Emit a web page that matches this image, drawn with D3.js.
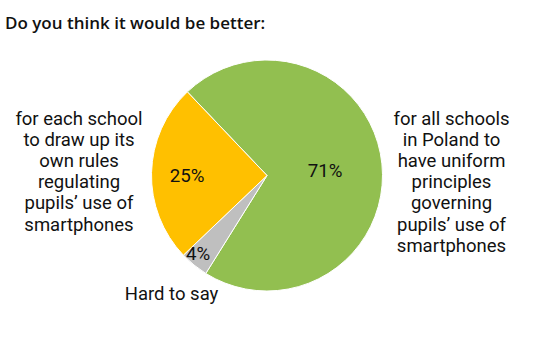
<!DOCTYPE html>
<html><head><meta charset="utf-8">
<script src="https://cdn.jsdelivr.net/npm/d3@7"></script>
<style>body{margin:0;background:#fff;} text{font-family:Roboto, sans-serif;}</style>
</head><body>
<svg id="chart" width="534" height="359"></svg>
<script>
const title = "Do you think it would be better:";
const categories = ["for all schools in Poland to have uniform principles governing pupils’ use of smartphones", "Hard to say", "for each school to draw up its own rules regulating pupils’ use of smartphones"];
const values = [71, 4, 25];
const colors = ["#92BF50", "#BFBFBF", "#FFC000"];
const labelLines = [
  ["for all schools", "in Poland to", "have uniform", "principles", "governing", "pupils’ use of", "smartphones"],
  ["Hard to say"],
  ["for each school", "to draw up its", "own rules", "regulating", "pupils’ use of", "smartphones"]
];

const svg = d3.select("#chart");
const cx = 267, cy = 175.5, r = 115.5;
const start = -43.6 * Math.PI / 180;

svg.append("text").attr("x", 5).attr("y", 29).attr("font-size", 17).attr("font-weight", 600)
  .style("font-family", "'Open Sans', sans-serif")
  .attr("fill", "#111").text(title);

const pie = d3.pie().sort(null).value(d => d).startAngle(start).endAngle(start + 2 * Math.PI);
const arcs = pie(values);
const arc = d3.arc().innerRadius(0).outerRadius(r);
const g = svg.append("g").attr("transform", `translate(${cx},${cy})`);
g.selectAll("path").data(arcs).join("path")
  .attr("d", arc).attr("fill", (d, i) => colors[i])
  .attr("stroke", "#fff").attr("stroke-width", 1);

const pctPos = [[58, -5], [-69, 78.5], [-80, 0.5]];
g.selectAll("text.pct").data(arcs).join("text").attr("class", "pct")
  .attr("x", (d, i) => pctPos[i][0]).attr("y", (d, i) => pctPos[i][1])
  .attr("text-anchor", "middle").attr("dominant-baseline", "central")
  .attr("font-size", 18.7).attr("fill", "#111")
  .text(d => d.data + "%");

const labelPos = [[451.5, 125], [171.5, 300], [79, 125]];
labelLines.forEach((lines, i) => {
  const t = svg.append("text").attr("text-anchor", "middle").attr("font-size", 18.5).attr("fill", "#111");
  lines.forEach((l, j) => {
    t.append("tspan").attr("x", labelPos[i][0]).attr("y", labelPos[i][1] + j * 21.1).text(l);
  });
});
</script>
</body></html>
